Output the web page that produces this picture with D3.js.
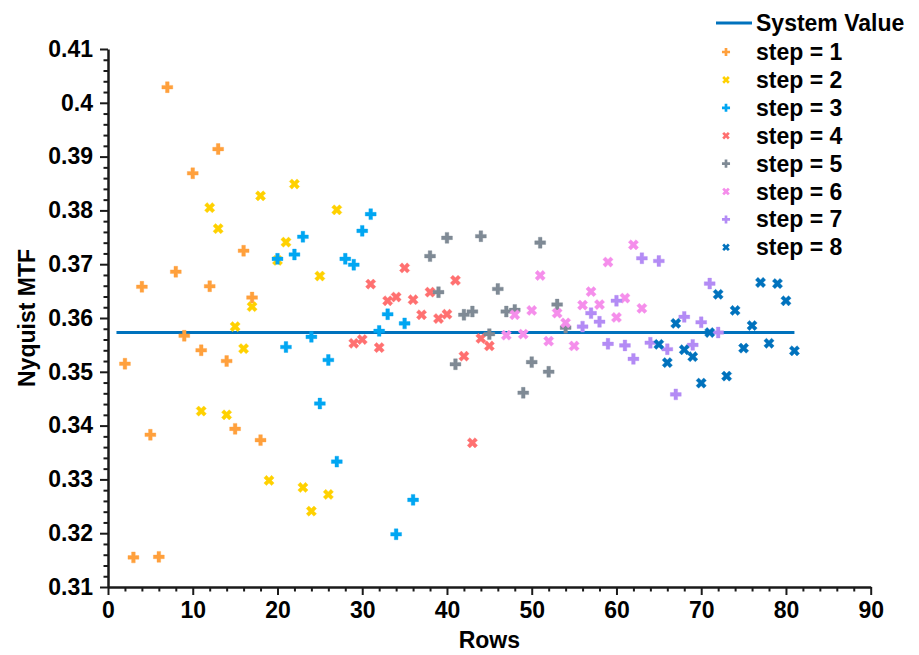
<!DOCTYPE html>
<html>
<head>
<meta charset="utf-8">
<script src="https://cdn.jsdelivr.net/npm/d3@7/dist/d3.min.js"></script>
<style>
  html, body { margin: 0; padding: 0; background: #fff; }
  svg { display: block; }
  text { font-family: "Liberation Sans", Arial, sans-serif; font-weight: bold; fill: #000; }
</style>
</head>
<body>
<svg id="chart" width="919" height="655"></svg>
<script>
// Nyquist MTF measured along the rows, in eight overlapping steps
const rows1 = [2, 3, 4, 5, 6, 7, 8, 9, 10, 11, 12, 13, 14, 15, 16, 17, 18];
const mtf1 = [0.3515, 0.3155, 0.3658, 0.3383, 0.3156, 0.4029, 0.3686, 0.3567, 0.3869, 0.3540, 0.3659, 0.3914, 0.3520, 0.3394, 0.3725, 0.3638, 0.3373];

const rows2 = [11, 12, 13, 14, 15, 16, 17, 18, 19, 20, 21, 22, 23, 24, 25, 26, 27];
const mtf2 = [0.3427, 0.3805, 0.3766, 0.3420, 0.3584, 0.3543, 0.3621, 0.3827, 0.3298, 0.3707, 0.3741, 0.3849, 0.3285, 0.3241, 0.3678, 0.3272, 0.3801];

const rows3 = [20, 21, 22, 23, 24, 25, 26, 27, 28, 29, 30, 31, 32, 33, 34, 35, 36];
const mtf3 = [0.3710, 0.3546, 0.3718, 0.3751, 0.3565, 0.3441, 0.3522, 0.3333, 0.3710, 0.3699, 0.3762, 0.3793, 0.3576, 0.3607, 0.3198, 0.3590, 0.3262];

const rows4 = [29, 30, 31, 32, 33, 34, 35, 36, 37, 38, 39, 40, 41, 42, 43, 44, 45];
const mtf4 = [0.3553, 0.3560, 0.3663, 0.3545, 0.3632, 0.3639, 0.3693, 0.3634, 0.3606, 0.3648, 0.3599, 0.3607, 0.3670, 0.3529, 0.3368, 0.3562, 0.3548];

const rows5 = [38, 39, 40, 41, 42, 43, 44, 45, 46, 47, 48, 49, 50, 51, 52, 53, 54];
const mtf5 = [0.3715, 0.3648, 0.3749, 0.3514, 0.3606, 0.3612, 0.3752, 0.3570, 0.3654, 0.3612, 0.3615, 0.3461, 0.3518, 0.3740, 0.3500, 0.3625, 0.3582];

const rows6 = [47, 48, 49, 50, 51, 52, 53, 54, 55, 56, 57, 58, 59, 60, 61, 62, 63];
const mtf6 = [0.3568, 0.3606, 0.3570, 0.3614, 0.3679, 0.3557, 0.3609, 0.3591, 0.3548, 0.3624, 0.3649, 0.3625, 0.3704, 0.3601, 0.3637, 0.3736, 0.3618];

const rows7 = [56, 57, 58, 59, 60, 61, 62, 63, 64, 65, 66, 67, 68, 69, 70, 71, 72];
const mtf7 = [0.3584, 0.3609, 0.3593, 0.3552, 0.3632, 0.3549, 0.3524, 0.3711, 0.3554, 0.3706, 0.3542, 0.3458, 0.3602, 0.3550, 0.3592, 0.3664, 0.3573];

const rows8 = [65, 66, 67, 68, 69, 70, 71, 72, 73, 74, 75, 76, 77, 78, 79, 80, 81];
const mtf8 = [0.3551, 0.3517, 0.3590, 0.3541, 0.3528, 0.3479, 0.3573, 0.3644, 0.3492, 0.3614, 0.3544, 0.3586, 0.3666, 0.3553, 0.3664, 0.3632, 0.3539];

const stepLabels = ["step = 1", "step = 2", "step = 3", "step = 4", "step = 5", "step = 6", "step = 7", "step = 8"];
const stepColors = ["#FFA03C", "#FFD100", "#00A6F2", "#FF7070", "#7F8A95", "#F58EEB", "#B38BF5", "#0072BD"];

// reference level and the row span it covers
const systemValue = 0.3573;
const systemRows = [1, 81];

const xTicks = [0, 10, 20, 30, 40, 50, 60, 70, 80, 90];
const yTicks = [0.31, 0.32, 0.33, 0.34, 0.35, 0.36, 0.37, 0.38, 0.39, 0.40, 0.41];

const series = [
  [rows1, mtf1], [rows2, mtf2], [rows3, mtf3], [rows4, mtf4],
  [rows5, mtf5], [rows6, mtf6], [rows7, mtf7], [rows8, mtf8]
].map(([r, v], i) => ({
  label: stepLabels[i],
  color: stepColors[i],
  rotated: i % 2 === 1,
  points: r.map((row, k) => ({ row, value: v[k] }))
}));

const svg = d3.select("#chart");
const plotLeft = 108, plotRight = 870.7, plotTop = 49, plotBottom = 587;

const x = d3.scaleLinear().domain([0, 90]).range([plotLeft, plotRight]);
const y = d3.scaleLinear().domain([0.31, 0.41]).range([plotBottom, plotTop]);

// minor ticks
const xMinor = d3.range(0, 91, 2).filter(v => v % 10 !== 0);
const yMinor = d3.range(0, 51).map(k => 0.31 + k * 0.002).filter((v, k) => k % 5 !== 0);

const gx = svg.append("g").attr("transform", `translate(0,${plotBottom})`);
gx.append("g").call(d3.axisBottom(x).tickValues(xMinor).tickSize(4.5).tickFormat(""))
  .call(g => g.select(".domain").remove());
gx.append("g").call(d3.axisBottom(x).tickValues(xTicks).tickSize(8).tickSizeOuter(0).tickPadding(7).tickFormat(d3.format("d")))
  .call(g => g.selectAll("text").attr("font-size", 23).attr("fill", "#000"));

const gy = svg.append("g").attr("transform", `translate(${plotLeft},0)`);
gy.append("g").call(d3.axisLeft(y).tickValues(yMinor).tickSize(4.5).tickFormat(""))
  .call(g => g.select(".domain").remove());
gy.append("g").call(d3.axisLeft(y).tickValues(yTicks).tickSize(8).tickSizeOuter(0).tickPadding(7)
    .tickFormat(d => String(+d.toFixed(2))))
  .call(g => g.selectAll("text").attr("font-size", 23).attr("fill", "#000"));

svg.selectAll(".domain").attr("stroke", "#1a1a1a").attr("stroke-width", 2.5);
svg.selectAll(".tick line").attr("stroke", "#1a1a1a").attr("stroke-width", 2);

// axis titles
svg.append("text")
  .attr("x", (plotLeft + plotRight) / 2).attr("y", 648)
  .attr("text-anchor", "middle").attr("font-size", 23)
  .text("Rows");
svg.append("text")
  .attr("transform", `translate(35,${(plotTop + plotBottom) / 2}) rotate(-90)`)
  .attr("text-anchor", "middle").attr("font-size", 23)
  .text("Nyquist MTF");

// system value line
svg.append("line")
  .attr("x1", x(systemRows[0])).attr("x2", x(systemRows[1]))
  .attr("y1", y(systemValue)).attr("y2", y(systemValue))
  .attr("stroke", "#0072BD").attr("stroke-width", 3);

// markers: plus for odd steps, cross for even steps
const markerPath = d3.symbol(d3.symbolCross).size(66)();
const legendPath = d3.symbol(d3.symbolCross).size(36)();

series.forEach(s => {
  svg.append("g").selectAll("path")
    .data(s.points)
    .join("path")
    .attr("d", markerPath)
    .attr("fill", s.color)
    .attr("stroke", s.color)
    .attr("stroke-width", 0.6)
    .attr("stroke-opacity", 0.6)
    .attr("transform", d => `translate(${x(d.row)},${y(d.value)})${s.rotated ? " rotate(45)" : ""}`);
});

// legend
const legend = svg.append("g");
legend.append("line")
  .attr("x1", 716).attr("x2", 752).attr("y1", 23).attr("y2", 23)
  .attr("stroke", "#0072BD").attr("stroke-width", 3);
legend.append("text").attr("x", 756).attr("y", 31).attr("font-size", 23).text("System Value");

series.forEach((s, i) => {
  const cy = 52 + i * 27.9;
  legend.append("path")
    .attr("d", legendPath)
    .attr("fill", s.color)
    .attr("transform", `translate(726,${cy})${s.rotated ? " rotate(45)" : ""}`);
  legend.append("text").attr("x", 756).attr("y", cy + 8).attr("font-size", 23).text(s.label);
});
</script>
</body>
</html>
